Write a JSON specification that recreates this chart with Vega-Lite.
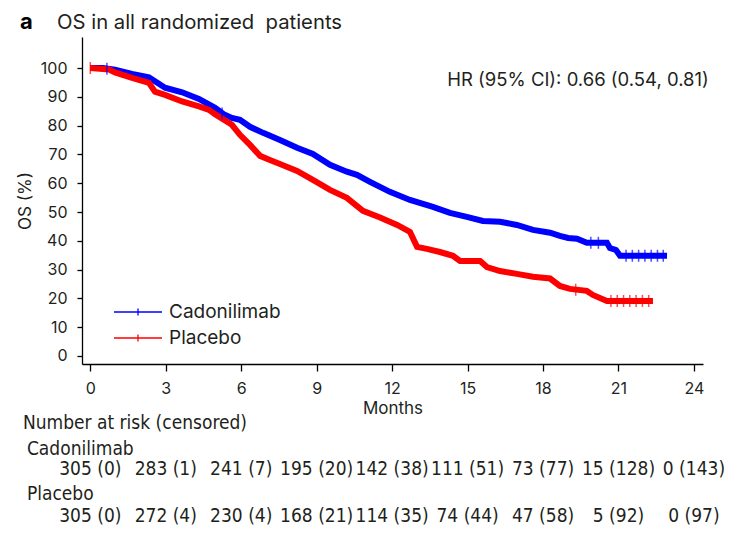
{
  "$schema": "https://vega.github.io/schema/vega-lite/v6.json",
  "width": 621,
  "height": 327,
  "autosize": {"type": "none"},
  "padding": {"left": 82, "top": 37, "right": 34, "bottom": 172},
  "background": "white",
  "config": {
    "view": {"stroke": null},
    "font": "Inter",
    "text": {"color": "#231F20"},
    "axis": {
      "grid": false,
      "labelOverlap": false,
      "tickWidth": 1.3,
      "tickColor": "#000000",
      "domainColor": "#000000",
      "domainWidth": 1.3,
      "labelFontSize": 16,
      "labelColor": "#231F20",
      "labelFont": "Inter",
      "titleFont": "Inter",
      "titleFontSize": 17,
      "titleFontWeight": "normal",
      "titleColor": "#231F20"
    },
    "axisX": {"tickSize": 7, "labelPadding": 9, "titlePadding": 4},
    "axisY": {"tickSize": 5, "labelPadding": 10, "titlePadding": 6}
  },
  "datasets": {
    "km": [
      {"arm": "Cadonilimab", "month": 0, "os": 100},
      {"arm": "Cadonilimab", "month": 0.5, "os": 100},
      {"arm": "Cadonilimab", "month": 0.98, "os": 99.4},
      {"arm": "Cadonilimab", "month": 1.66, "os": 98},
      {"arm": "Cadonilimab", "month": 2.33, "os": 96.8},
      {"arm": "Cadonilimab", "month": 2.97, "os": 93.2},
      {"arm": "Cadonilimab", "month": 3.65, "os": 91.6},
      {"arm": "Cadonilimab", "month": 4.32, "os": 89.3},
      {"arm": "Cadonilimab", "month": 4.96, "os": 86.2},
      {"arm": "Cadonilimab", "month": 5.3, "os": 84},
      {"arm": "Cadonilimab", "month": 5.63, "os": 82.7},
      {"arm": "Cadonilimab", "month": 5.95, "os": 82},
      {"arm": "Cadonilimab", "month": 6.35, "os": 79.6},
      {"arm": "Cadonilimab", "month": 6.87, "os": 77.5},
      {"arm": "Cadonilimab", "month": 7.54, "os": 75},
      {"arm": "Cadonilimab", "month": 8.22, "os": 72.3},
      {"arm": "Cadonilimab", "month": 8.85, "os": 70.2},
      {"arm": "Cadonilimab", "month": 9.53, "os": 66.4},
      {"arm": "Cadonilimab", "month": 10.2, "os": 64},
      {"arm": "Cadonilimab", "month": 10.6, "os": 62.9},
      {"arm": "Cadonilimab", "month": 11.12, "os": 60.5},
      {"arm": "Cadonilimab", "month": 11.91, "os": 57},
      {"arm": "Cadonilimab", "month": 12.71, "os": 54.2},
      {"arm": "Cadonilimab", "month": 13.0, "os": 53.4},
      {"arm": "Cadonilimab", "month": 13.62, "os": 51.8},
      {"arm": "Cadonilimab", "month": 14.3, "os": 49.7},
      {"arm": "Cadonilimab", "month": 14.97, "os": 48.3},
      {"arm": "Cadonilimab", "month": 15.61, "os": 46.9},
      {"arm": "Cadonilimab", "month": 16.29, "os": 46.6},
      {"arm": "Cadonilimab", "month": 16.96, "os": 45.5},
      {"arm": "Cadonilimab", "month": 17.6, "os": 43.8},
      {"arm": "Cadonilimab", "month": 18.28, "os": 42.8},
      {"arm": "Cadonilimab", "month": 18.67, "os": 41.7},
      {"arm": "Cadonilimab", "month": 19.0, "os": 41.0},
      {"arm": "Cadonilimab", "month": 19.35, "os": 40.7},
      {"arm": "Cadonilimab", "month": 19.74, "os": 39.3},
      {"arm": "Cadonilimab", "month": 20.54, "os": 39.3},
      {"arm": "Cadonilimab", "month": 20.66, "os": 37.5},
      {"arm": "Cadonilimab", "month": 20.9, "os": 36.8},
      {"arm": "Cadonilimab", "month": 21.06, "os": 34.8},
      {"arm": "Cadonilimab", "month": 22.93, "os": 34.8},
      {"arm": "Placebo", "month": 0, "os": 100},
      {"arm": "Placebo", "month": 0.75, "os": 99.5},
      {"arm": "Placebo", "month": 0.98, "os": 98.5},
      {"arm": "Placebo", "month": 1.66, "os": 96.6},
      {"arm": "Placebo", "month": 2.33, "os": 94.9},
      {"arm": "Placebo", "month": 2.57, "os": 91.8},
      {"arm": "Placebo", "month": 2.97, "os": 90.7},
      {"arm": "Placebo", "month": 3.65, "os": 88.4},
      {"arm": "Placebo", "month": 4.32, "os": 86.7},
      {"arm": "Placebo", "month": 4.72, "os": 85.5},
      {"arm": "Placebo", "month": 4.96, "os": 84},
      {"arm": "Placebo", "month": 5.63, "os": 80.3},
      {"arm": "Placebo", "month": 5.95, "os": 76.8},
      {"arm": "Placebo", "month": 6.35, "os": 73.3},
      {"arm": "Placebo", "month": 6.75, "os": 69.5},
      {"arm": "Placebo", "month": 7.14, "os": 68.1},
      {"arm": "Placebo", "month": 7.54, "os": 66.7},
      {"arm": "Placebo", "month": 8.22, "os": 64.3},
      {"arm": "Placebo", "month": 8.85, "os": 61.2},
      {"arm": "Placebo", "month": 9.53, "os": 57.7},
      {"arm": "Placebo", "month": 10.2, "os": 54.9},
      {"arm": "Placebo", "month": 10.84, "os": 50.4},
      {"arm": "Placebo", "month": 11.52, "os": 48.1},
      {"arm": "Placebo", "month": 12.2, "os": 45.5},
      {"arm": "Placebo", "month": 12.71, "os": 43.1},
      {"arm": "Placebo", "month": 12.99, "os": 37.9},
      {"arm": "Placebo", "month": 13.38, "os": 37.2},
      {"arm": "Placebo", "month": 13.9, "os": 36.1},
      {"arm": "Placebo", "month": 14.42, "os": 34.8},
      {"arm": "Placebo", "month": 14.7, "os": 33},
      {"arm": "Placebo", "month": 15.5, "os": 33},
      {"arm": "Placebo", "month": 15.77, "os": 30.9},
      {"arm": "Placebo", "month": 16.29, "os": 29.5},
      {"arm": "Placebo", "month": 16.96, "os": 28.5},
      {"arm": "Placebo", "month": 17.6, "os": 27.5},
      {"arm": "Placebo", "month": 18.28, "os": 26.9},
      {"arm": "Placebo", "month": 18.67, "os": 24.3},
      {"arm": "Placebo", "month": 19.07, "os": 23.3},
      {"arm": "Placebo", "month": 19.74, "os": 22.6},
      {"arm": "Placebo", "month": 19.98, "os": 21.2},
      {"arm": "Placebo", "month": 20.54, "os": 19.1},
      {"arm": "Placebo", "month": 22.37, "os": 19.1}
    ],
    "censor": [
      {"arm": "Cadonilimab", "month": 0.66, "os": 99.8},
      {"arm": "Cadonilimab", "month": 5.24, "os": 84.2},
      {"arm": "Cadonilimab", "month": 19.9, "os": 39.3},
      {"arm": "Cadonilimab", "month": 20.2, "os": 39.3},
      {"arm": "Cadonilimab", "month": 21.3, "os": 34.8},
      {"arm": "Cadonilimab", "month": 21.55, "os": 34.8},
      {"arm": "Cadonilimab", "month": 21.8, "os": 34.8},
      {"arm": "Cadonilimab", "month": 22.05, "os": 34.8},
      {"arm": "Cadonilimab", "month": 22.3, "os": 34.8},
      {"arm": "Cadonilimab", "month": 22.55, "os": 34.8},
      {"arm": "Cadonilimab", "month": 22.78, "os": 34.8},
      {"arm": "Placebo", "month": 0.0, "os": 100},
      {"arm": "Placebo", "month": 19.3, "os": 23.0},
      {"arm": "Placebo", "month": 20.7, "os": 19.1},
      {"arm": "Placebo", "month": 20.95, "os": 19.1},
      {"arm": "Placebo", "month": 21.2, "os": 19.1},
      {"arm": "Placebo", "month": 21.45, "os": 19.1},
      {"arm": "Placebo", "month": 21.7, "os": 19.1},
      {"arm": "Placebo", "month": 21.95, "os": 19.1},
      {"arm": "Placebo", "month": 22.2, "os": 19.1}
    ],
    "risk": [
      {"arm": "Cadonilimab", "month": 0, "label": "305 (0)"},
      {"arm": "Cadonilimab", "month": 3, "label": "283 (1)"},
      {"arm": "Cadonilimab", "month": 6, "label": "241 (7)"},
      {"arm": "Cadonilimab", "month": 9, "label": "195 (20)"},
      {"arm": "Cadonilimab", "month": 12, "label": "142 (38)"},
      {"arm": "Cadonilimab", "month": 15, "label": "111 (51)"},
      {"arm": "Cadonilimab", "month": 18, "label": "73 (77)"},
      {"arm": "Cadonilimab", "month": 21, "label": "15 (128)"},
      {"arm": "Cadonilimab", "month": 24, "label": "0 (143)"},
      {"arm": "Placebo", "month": 0, "label": "305 (0)"},
      {"arm": "Placebo", "month": 3, "label": "272 (4)"},
      {"arm": "Placebo", "month": 6, "label": "230 (4)"},
      {"arm": "Placebo", "month": 9, "label": "168 (21)"},
      {"arm": "Placebo", "month": 12, "label": "114 (35)"},
      {"arm": "Placebo", "month": 15, "label": "74 (44)"},
      {"arm": "Placebo", "month": 18, "label": "47 (58)"},
      {"arm": "Placebo", "month": 21, "label": "5 (92)"},
      {"arm": "Placebo", "month": 24, "label": "0 (97)"}
    ]
  },
  "layer": [
    {
      "data": {"name": "km"},
      "mark": {"type": "line", "strokeWidth": 6, "interpolate": "linear", "strokeJoin": "miter"},
      "encoding": {
        "x": {
          "field": "month",
          "type": "quantitative",
          "scale": {"domain": [-0.33, 24.36], "nice": false, "zero": false},
          "axis": {"values": [0, 3, 6, 9, 12, 15, 18, 21, 24], "format": "d", "title": "Months", "labelOverlap": false}
        },
        "y": {
          "field": "os",
          "type": "quantitative",
          "scale": {"domain": [-2.8, 110.8], "nice": false, "zero": false},
          "axis": {"values": [0, 10, 20, 30, 40, 50, 60, 70, 80, 90, 100], "format": "d", "title": "OS (%)", "labelOverlap": false}
        },
        "color": {
          "field": "arm",
          "type": "nominal",
          "scale": {"domain": ["Cadonilimab", "Placebo"], "range": ["#0000FF", "#FF0000"]},
          "legend": {
            "orient": "none",
            "legendX": 43,
            "legendY": 262,
            "title": null,
            "padding": 0,
            "symbolType": "M-2,0H2M0,-0.3V0.3",
            "symbolSize": 576,
            "symbolStrokeWidth": 1.3,
            "symbolFillColor": "transparent",
            "labelFontSize": 19,
            "labelFont": "Inter",
            "labelColor": "#231F20",
            "labelOffset": 18,
            "rowPadding": 3
          }
        }
      }
    },
    {
      "data": {"name": "censor"},
      "mark": {"type": "tick", "orient": "vertical", "size": 12, "thickness": 1.5},
      "encoding": {
        "x": {"field": "month", "type": "quantitative", "axis": {"values": [0, 3, 6, 9, 12, 15, 18, 21, 24], "format": "d", "title": "Months", "labelOverlap": false}},
        "y": {"field": "os", "type": "quantitative", "axis": {"values": [0, 10, 20, 30, 40, 50, 60, 70, 80, 90, 100], "format": "d", "title": "OS (%)", "labelOverlap": false}},
        "color": {"field": "arm", "type": "nominal", "legend": null}
      }
    },
    {
      "data": {"values": [{"label": "HR (95% CI): 0.66 (0.54, 0.81)"}]},
      "mark": {"type": "text", "align": "center", "baseline": "middle", "fontSize": 18.5, "font": "Inter", "color": "#231F20"},
      "encoding": {
        "x": {"datum": 19.39, "axis": {"values": [0, 3, 6, 9, 12, 15, 18, 21, 24], "format": "d", "title": "Months", "labelOverlap": false}},
        "y": {"datum": 95.9, "axis": {"values": [0, 10, 20, 30, 40, 50, 60, 70, 80, 90, 100], "format": "d", "title": "OS (%)", "labelOverlap": false}},
        "text": {"field": "label"}
      }
    },
    {
      "data": {"values": [{"panel": "a"}]},
      "mark": {"type": "text", "align": "center", "baseline": "alphabetic", "fontSize": 22, "fontWeight": "bold", "font": "Inter", "color": "#000000"},
      "encoding": {
        "x": {"datum": -2.54, "axis": {"values": [0, 3, 6, 9, 12, 15, 18, 21, 24], "format": "d", "title": "Months", "labelOverlap": false}},
        "y": {"datum": 113.6, "axis": {"values": [0, 10, 20, 30, 40, 50, 60, 70, 80, 90, 100], "format": "d", "title": "OS (%)", "labelOverlap": false}},
        "text": {"field": "panel"}
      }
    },
    {
      "data": {"values": [{"title": "OS in all randomized\u00a0 patients"}]},
      "mark": {"type": "text", "align": "left", "baseline": "alphabetic", "fontSize": 20.3, "font": "Inter", "color": "#231F20"},
      "encoding": {
        "x": {"datum": -1.324, "axis": {"values": [0, 3, 6, 9, 12, 15, 18, 21, 24], "format": "d", "title": "Months", "labelOverlap": false}},
        "y": {"datum": 113.6, "axis": {"values": [0, 10, 20, 30, 40, 50, 60, 70, 80, 90, 100], "format": "d", "title": "OS (%)", "labelOverlap": false}},
        "text": {"field": "title"}
      }
    },
    {
      "data": {"values": [{"label": "Number at risk (censored)"}]},
      "mark": {"type": "text", "align": "left", "baseline": "middle", "fontSize": 19, "font": "DejaVu Sans Condensed", "color": "#231F20"},
      "encoding": {
        "x": {"datum": -2.68, "axis": {"values": [0, 3, 6, 9, 12, 15, 18, 21, 24], "format": "d", "title": "Months", "labelOverlap": false}},
        "y": {"datum": -23.3, "axis": {"values": [0, 10, 20, 30, 40, 50, 60, 70, 80, 90, 100], "format": "d", "title": "OS (%)", "labelOverlap": false}},
        "text": {"field": "label"}
      }
    },
    {
      "data": {"values": [{"label": "Cadonilimab"}]},
      "mark": {"type": "text", "align": "left", "baseline": "middle", "fontSize": 19, "font": "DejaVu Sans Condensed", "color": "#231F20"},
      "encoding": {
        "x": {"datum": -2.52, "axis": {"values": [0, 3, 6, 9, 12, 15, 18, 21, 24], "format": "d", "title": "Months", "labelOverlap": false}},
        "y": {"datum": -32.33, "axis": {"values": [0, 10, 20, 30, 40, 50, 60, 70, 80, 90, 100], "format": "d", "title": "OS (%)", "labelOverlap": false}},
        "text": {"field": "label"}
      }
    },
    {
      "data": {"name": "risk"},
      "transform": [{"filter": "datum.arm === 'Cadonilimab'"}],
      "mark": {"type": "text", "align": "center", "baseline": "middle", "fontSize": 19, "font": "DejaVu Sans Condensed", "color": "#231F20"},
      "encoding": {
        "x": {"field": "month", "type": "quantitative", "axis": {"values": [0, 3, 6, 9, 12, 15, 18, 21, 24], "format": "d", "title": "Months", "labelOverlap": false}},
        "y": {"datum": -39.28, "axis": {"values": [0, 10, 20, 30, 40, 50, 60, 70, 80, 90, 100], "format": "d", "title": "OS (%)", "labelOverlap": false}},
        "text": {"field": "label"}
      }
    },
    {
      "data": {"values": [{"label": "Placebo"}]},
      "mark": {"type": "text", "align": "left", "baseline": "middle", "fontSize": 19, "font": "DejaVu Sans Condensed", "color": "#231F20"},
      "encoding": {
        "x": {"datum": -2.52, "axis": {"values": [0, 3, 6, 9, 12, 15, 18, 21, 24], "format": "d", "title": "Months", "labelOverlap": false}},
        "y": {"datum": -47.96, "axis": {"values": [0, 10, 20, 30, 40, 50, 60, 70, 80, 90, 100], "format": "d", "title": "OS (%)", "labelOverlap": false}},
        "text": {"field": "label"}
      }
    },
    {
      "data": {"name": "risk"},
      "transform": [{"filter": "datum.arm === 'Placebo'"}],
      "mark": {"type": "text", "align": "center", "baseline": "middle", "fontSize": 19, "font": "DejaVu Sans Condensed", "color": "#231F20"},
      "encoding": {
        "x": {"field": "month", "type": "quantitative", "axis": {"values": [0, 3, 6, 9, 12, 15, 18, 21, 24], "format": "d", "title": "Months", "labelOverlap": false}},
        "y": {"datum": -55.61, "axis": {"values": [0, 10, 20, 30, 40, 50, 60, 70, 80, 90, 100], "format": "d", "title": "OS (%)", "labelOverlap": false}},
        "text": {"field": "label"}
      }
    }
  ]
}
